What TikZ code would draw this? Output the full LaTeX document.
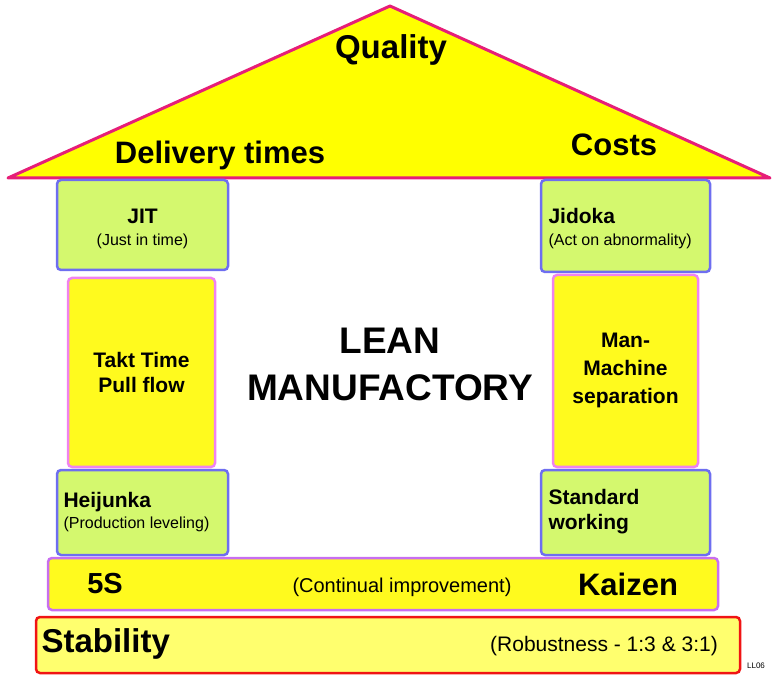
\documentclass[tikz,border=0pt]{standalone}
\usepackage{fontspec}
\setmainfont{Liberation Sans}
\begin{document}
\begin{tikzpicture}[x=1pt,y=-1pt,
  box/.style={rounded corners=4pt,line width=2.5pt},
  gbox/.style={box,fill={rgb,255:red,212;green,248;blue,110},draw={rgb,255:red,110;green,110;blue,240}},
  ybox/.style={box,fill={rgb,255:red,255;green,250;blue,30},draw={rgb,255:red,240;green,130;blue,240}},
  h/.style={font=\fontsize{21}{25}\selectfont\bfseries,align=center},
  s/.style={font=\fontsize{16}{19}\selectfont,align=center}]
\useasboundingbox (0,0) rectangle (774,684);
\definecolor{roof}{RGB}{255,255,0}
\draw[fill=roof,draw={rgb,255:red,230;green,30;blue,120},line width=3pt,line join=round] (8,178) -- (390,6) -- (770,178) -- cycle;
\node[font=\fontsize{33}{38}\selectfont\bfseries] (q) at (391,50) {Quality};
\node[font=\fontsize{31}{36}\selectfont\bfseries] (d) at (220,155) {Delivery times};
\node[font=\fontsize{31}{36}\selectfont\bfseries] (c) at (614,145) {Costs};
% left column
\draw[gbox] (57,180) rectangle (228,270);
\node[h] (jit) at (142.5,216) {JIT};
\node[s] (jits) at (142.5,241) {(Just in time)};
\draw[ybox] (68,278) rectangle (215,467);
\node[h] (takt) at (141.5,372) {Takt Time\\Pull flow};
\draw[gbox] (57,470) rectangle (228,555);
\node[h,anchor=west] (hei) at (60,502) {Heijunka};
\node[s,anchor=west] (heis) at (60,524) {(Production leveling)};
% right column
\draw[gbox] (541,180) rectangle (710,272);
\node[h,anchor=west] (jid) at (545,216) {Jidoka};
\node[s,anchor=west] (jids) at (545,241) {(Act on abnormality)};
\draw[ybox] (553,275) rectangle (698,467);
\node[h,font=\fontsize{21}{28}\selectfont\bfseries] (mm) at (625.5,370) {Man-\\Machine\\separation};
\draw[gbox] (541,470) rectangle (710,555);
\node[h,anchor=west,align=left] (std) at (545,512) {Standard\\working};
% center
\node[font=\fontsize{37}{47}\selectfont\bfseries,align=center] (lean) at (390,364) {LEAN\\MANUFACTORY};
% bars
\draw[box,fill={rgb,255:red,255;green,250;blue,30},draw={rgb,255:red,200;green,110;blue,240}] (48,558) rectangle (718,610);
\node[font=\fontsize{29}{33}\selectfont\bfseries] (fs) at (105,584) {5S};
\node[font=\fontsize{20}{23}\selectfont] (ci) at (402,587) {(Continual improvement)};
\node[font=\fontsize{31}{35}\selectfont\bfseries] (kz) at (628,584) {Kaizen};
\draw[box,fill={rgb,255:red,255;green,255;blue,110},draw={rgb,255:red,240;green,20;blue,20}] (36,617) rectangle (740,673);
\node[font=\fontsize{33}{37}\selectfont\bfseries,anchor=west] (st) at (38,644) {Stability};
\node[font=\fontsize{21}{24}\selectfont] (rb) at (604,646) {(Robustness - 1:3 \& 3:1)};
\node[font=\fontsize{8}{9}\selectfont] (ll) at (756,666) {LL06};
\end{tikzpicture}
\end{document}
